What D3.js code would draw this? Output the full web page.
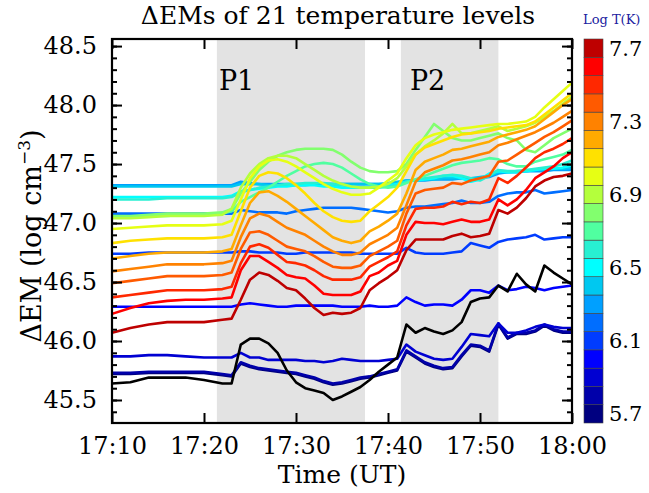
<!DOCTYPE html>
<html>
<head>
<meta charset="utf-8">
<script src="https://cdn.jsdelivr.net/npm/d3@7/dist/d3.min.js"></script>
<style>
  body { margin: 0; background: #fff; }
  text { font-family: 'DejaVu Serif', serif; }
</style>
</head>
<body>
<div id="main"></div>
<script>
// minutes after 17:00 UT
const times = [10, 12, 14, 16, 18, 20, 22,
  23, 24, 25, 26, 27, 28, 29, 30,
  31, 32, 33, 34, 35, 36, 37, 38, 39, 40,
  41, 42, 43, 44, 45, 46, 47, 48, 49, 50,
  51, 52, 53, 54, 55, 56, 57, 58, 59, 60];

const levels = [5.7, 5.8, 5.9, 6.0, 6.1, 6.2, 6.3, 6.4, 6.5, 6.6, 6.7,
  6.8, 6.9, 7.0, 7.1, 7.2, 7.3, 7.4, 7.5, 7.6, 7.7];

const levelColors = ['#000080', '#0000aa', '#0000d2', '#0000ff', '#003cff', '#006eff',
  '#00a0ff', '#00c8f0', '#00ffff', '#28f0d2', '#50ffa0', '#82ff6e', '#b4ff3c',
  '#e6ff14', '#ffe100', '#ffaa00', '#ff8200', '#ff5a00', '#ff2800', '#ff0000', '#be0000'];

const dem57 = [45.72, 45.72, 45.73, 45.73, 45.73, 45.73, 45.71,
  45.70, 45.81, 45.78, 45.76, 45.75, 45.74, 45.73, 45.72,
  45.70, 45.68, 45.65, 45.63, 45.64, 45.66, 45.68, 45.69, 45.71, 45.73,
  45.75, 45.91, 45.86, 45.81, 45.78, 45.76, 45.77, 45.87, 45.96, 45.95,
  45.91, 46.14, 46.02, 46.06, 46.06, 46.08, 46.13, 46.09, 46.07, 46.07];
const dem58 = [45.73, 45.73, 45.74, 45.74, 45.74, 45.74, 45.72,
  45.71, 45.82, 45.79, 45.77, 45.76, 45.75, 45.74, 45.73,
  45.71, 45.69, 45.66, 45.64, 45.65, 45.67, 45.69, 45.70, 45.72, 45.74,
  45.76, 45.92, 45.87, 45.82, 45.79, 45.77, 45.78, 45.88, 45.97, 45.96,
  45.92, 46.15, 46.03, 46.07, 46.07, 46.09, 46.14, 46.10, 46.08, 46.08];
const dem59 = [45.87, 45.87, 45.88, 45.88, 45.87, 45.86, 45.86,
  45.86, 45.90, 45.86, 45.86, 45.84, 45.84, 45.84, 45.84,
  45.83, 45.83, 45.82, 45.83, 45.85, 45.84, 45.83, 45.83, 45.83, 45.84,
  45.85, 45.97, 45.91, 45.88, 45.85, 45.84, 45.85, 45.95, 46.06, 46.05,
  46.04, 46.15, 46.07, 46.07, 46.09, 46.12, 46.14, 46.12, 46.11, 46.11];
const dem60 = [46.29, 46.29, 46.29, 46.29, 46.29, 46.29, 46.29,
  46.29, 46.31, 46.32, 46.31, 46.30, 46.29, 46.29, 46.30,
  46.30, 46.30, 46.30, 46.30, 46.29, 46.29, 46.29, 46.30, 46.29, 46.29,
  46.30, 46.37, 46.33, 46.30, 46.31, 46.31, 46.30, 46.35, 46.43, 46.43,
  46.41, 46.47, 46.43, 46.44, 46.46, 46.45, 46.43, 46.45, 46.46, 46.47];
const dem61 = [46.74, 46.74, 46.75, 46.75, 46.75, 46.75, 46.75,
  46.75, 46.76, 46.76, 46.75, 46.75, 46.75, 46.74, 46.74,
  46.75, 46.75, 46.75, 46.75, 46.75, 46.75, 46.74, 46.74, 46.74, 46.74,
  46.74, 46.79, 46.75, 46.74, 46.74, 46.74, 46.75, 46.76, 46.83, 46.81,
  46.79, 46.84, 46.86, 46.87, 46.88, 46.90, 46.86, 46.87, 46.88, 46.88];
const dem62 = [47.08, 47.08, 47.08, 47.08, 47.08, 47.08, 47.08,
  47.08, 47.11, 47.10, 47.09, 47.09, 47.09, 47.08, 47.10,
  47.11, 47.12, 47.13, 47.13, 47.13, 47.13, 47.12, 47.11, 47.10, 47.09,
  47.10, 47.13, 47.14, 47.14, 47.15, 47.16, 47.17, 47.19, 47.17, 47.17,
  47.18, 47.23, 47.25, 47.26, 47.26, 47.28, 47.25, 47.26, 47.27, 47.28];
const dem63 = [47.32, 47.32, 47.32, 47.32, 47.32, 47.32, 47.32,
  47.32, 47.35, 47.34, 47.33, 47.33, 47.33, 47.33, 47.33,
  47.33, 47.33, 47.33, 47.33, 47.33, 47.33, 47.33, 47.33, 47.33, 47.33,
  47.34, 47.36, 47.36, 47.36, 47.37, 47.37, 47.37, 47.38, 47.36, 47.38,
  47.39, 47.42, 47.43, 47.43, 47.44, 47.44, 47.44, 47.45, 47.45, 47.45];
const dem64 = [47.31, 47.31, 47.31, 47.31, 47.31, 47.31, 47.31,
  47.31, 47.33, 47.33, 47.33, 47.32, 47.32, 47.32, 47.32,
  47.32, 47.33, 47.33, 47.33, 47.33, 47.33, 47.33, 47.33, 47.33, 47.34,
  47.35, 47.36, 47.36, 47.37, 47.37, 47.38, 47.38, 47.38, 47.38, 47.39,
  47.40, 47.43, 47.43, 47.44, 47.44, 47.45, 47.45, 47.46, 47.46, 47.47];
const dem65 = [47.22, 47.22, 47.22, 47.22, 47.22, 47.22, 47.22,
  47.23, 47.27, 47.28, 47.29, 47.30, 47.31, 47.31, 47.32,
  47.32, 47.32, 47.31, 47.31, 47.30, 47.30, 47.30, 47.30, 47.31, 47.32,
  47.33, 47.35, 47.36, 47.37, 47.38, 47.40, 47.40, 47.38, 47.35, 47.37,
  47.42, 47.44, 47.43, 47.43, 47.44, 47.45, 47.46, 47.46, 47.47, 47.49];
const dem66 = [47.20, 47.20, 47.20, 47.21, 47.21, 47.21, 47.21,
  47.22, 47.26, 47.28, 47.30, 47.31, 47.32, 47.33, 47.33,
  47.34, 47.34, 47.34, 47.33, 47.32, 47.31, 47.30, 47.30, 47.30, 47.31,
  47.32, 47.35, 47.37, 47.38, 47.39, 47.40, 47.41, 47.40, 47.38, 47.36,
  47.40, 47.45, 47.44, 47.44, 47.45, 47.46, 47.47, 47.48, 47.50, 47.53];
const dem67 = [47.05, 47.05, 47.06, 47.06, 47.07, 47.07, 47.08,
  47.10, 47.18, 47.22, 47.26, 47.30, 47.35, 47.40, 47.44,
  47.48, 47.50, 47.51, 47.50, 47.47, 47.42, 47.37, 47.33, 47.31, 47.30,
  47.31, 47.34, 47.37, 47.40, 47.43, 47.46, 47.49, 47.51, 47.52, 47.53,
  47.55, 47.54, 47.50, 47.48, 47.48, 47.52, 47.54, 47.56, 47.58, 47.62];
const dem68 = [47.06, 47.06, 47.07, 47.08, 47.08, 47.08, 47.09,
  47.12, 47.25, 47.35, 47.45, 47.52, 47.57, 47.60, 47.62,
  47.63, 47.63, 47.63, 47.62, 47.58, 47.52, 47.47, 47.44, 47.43, 47.43,
  47.44, 47.50, 47.62, 47.73, 47.84, 47.78, 47.72, 47.70, 47.70, 47.72,
  47.74, 47.76, 47.72, 47.70, 47.62, 47.60, 47.66, 47.72, 47.76, 47.80];
const dem69 = [47.04, 47.04, 47.05, 47.06, 47.06, 47.06, 47.07,
  47.12, 47.30, 47.42, 47.50, 47.55, 47.57, 47.57, 47.55,
  47.50, 47.45, 47.40, 47.36, 47.33, 47.31, 47.30, 47.30, 47.31, 47.33,
  47.38, 47.48, 47.58, 47.65, 47.70, 47.76, 47.84, 47.76, 47.76, 47.78,
  47.80, 47.82, 47.78, 47.80, 47.82, 47.85, 47.90, 47.95, 48.01, 48.07];
const dem70 = [46.95, 46.96, 46.97, 46.98, 46.98, 46.98, 46.99,
  47.02, 47.20, 47.38, 47.48, 47.53, 47.54, 47.52, 47.48,
  47.43, 47.38, 47.33, 47.29, 47.26, 47.24, 47.24, 47.25, 47.30, 47.36,
  47.42, 47.55, 47.66, 47.72, 47.75, 47.77, 47.79, 47.80, 47.81, 47.82,
  47.83, 47.84, 47.84, 47.85, 47.86, 47.90, 47.98, 48.05, 48.12, 48.19];
const dem71 = [46.83, 46.85, 46.86, 46.87, 46.87, 46.87, 46.88,
  46.90, 47.10, 47.30, 47.40, 47.43, 47.42, 47.38, 47.32,
  47.25, 47.17, 47.10, 47.05, 47.02, 47.01, 47.02, 47.10, 47.16, 47.22,
  47.30, 47.44, 47.58, 47.64, 47.67, 47.70, 47.73, 47.75, 47.76, 47.77,
  47.78, 47.80, 47.81, 47.82, 47.83, 47.86, 47.92, 47.98, 48.04, 48.10];
const dem72 = [46.70, 46.72, 46.74, 46.75, 46.75, 46.75, 46.76,
  46.78, 46.98, 47.17, 47.26, 47.27, 47.23, 47.18, 47.12,
  47.06, 47.00, 46.94, 46.88, 46.85, 46.83, 46.85, 46.93, 46.97, 47.02,
  47.08, 47.25, 47.45, 47.52, 47.55, 47.58, 47.62, 47.63, 47.65, 47.67,
  47.69, 47.73, 47.75, 47.77, 47.79, 47.82, 47.88, 47.94, 48.00, 48.05];
const dem73 = [46.59, 46.61, 46.63, 46.65, 46.65, 46.65, 46.66,
  46.68, 46.88, 47.04, 47.08, 47.06, 47.01, 46.96, 46.93,
  46.90, 46.85, 46.80, 46.76, 46.73, 46.73, 46.75, 46.82, 46.86, 46.90,
  46.96, 47.15, 47.35, 47.43, 47.46, 47.49, 47.53, 47.54, 47.56, 47.58,
  47.60, 47.66, 47.68, 47.71, 47.74, 47.77, 47.81, 47.85, 47.90, 47.95];
const dem74 = [46.49, 46.51, 46.53, 46.55, 46.55, 46.55, 46.56,
  46.58, 46.78, 46.92, 46.93, 46.90, 46.85, 46.80, 46.78,
  46.76, 46.72, 46.67, 46.63, 46.62, 46.62, 46.64, 46.72, 46.76, 46.80,
  46.85, 47.08, 47.25, 47.28, 47.29, 47.30, 47.34, 47.33, 47.36, 47.38,
  47.40, 47.52, 47.53, 47.58, 47.63, 47.68, 47.73, 47.77, 47.82, 47.87];
const dem75 = [46.37, 46.39, 46.41, 46.43, 46.43, 46.43, 46.44,
  46.46, 46.66, 46.80, 46.82, 46.79, 46.73, 46.67, 46.66,
  46.64, 46.60, 46.55, 46.52, 46.52, 46.52, 46.54, 46.63, 46.67, 46.71,
  46.76, 46.98, 47.12, 47.13, 47.13, 47.14, 47.18, 47.16, 47.18, 47.17,
  47.20, 47.38, 47.34, 47.40, 47.47, 47.55, 47.60, 47.63, 47.67, 47.72];
const dem76 = [46.23, 46.28, 46.32, 46.34, 46.35, 46.35, 46.36,
  46.37, 46.60, 46.72, 46.72, 46.67, 46.62, 46.56, 46.54,
  46.53, 46.47, 46.40, 46.39, 46.39, 46.39, 46.42, 46.55, 46.58, 46.64,
  46.68, 46.90, 47.01, 47.00, 47.00, 46.99, 47.01, 47.03, 47.01, 47.01,
  47.03, 47.20, 47.15, 47.20, 47.28, 47.38, 47.43, 47.48, 47.55, 47.60];
const dem77 = [46.07, 46.11, 46.14, 46.16, 46.16, 46.16, 46.18,
  46.19, 46.35, 46.52, 46.58, 46.56, 46.51, 46.45, 46.43,
  46.36, 46.28, 46.22, 46.24, 46.23, 46.24, 46.28, 46.43, 46.49, 46.54,
  46.60, 46.77, 46.86, 46.86, 46.86, 46.86, 46.89, 46.91, 46.88, 46.89,
  46.91, 47.11, 47.08, 47.13, 47.21, 47.31, 47.36, 47.39, 47.40, 47.42];
// black curve
const demBlack = [45.64, 45.65, 45.69, 45.69, 45.69, 45.67, 45.64,
  45.64, 45.97, 46.02, 46.02, 45.98, 45.90, 45.75, 45.65,
  45.60, 45.58, 45.56, 45.50, 45.53, 45.57, 45.61, 45.67, 45.74, 45.80,
  45.86, 46.14, 46.07, 46.11, 46.08, 46.06, 46.09, 46.16, 46.33, 46.36,
  46.37, 46.47, 46.42, 46.57, 46.48, 46.42, 46.64, 46.58, 46.53, 46.48];

const series = [dem57, dem58, dem59, dem60, dem61, dem62, dem63, dem64, dem65, dem66, dem67,
  dem68, dem69, dem70, dem71, dem72, dem73, dem74, dem75, dem76, dem77];

const xTicks = [10, 20, 30, 40, 50, 60];
const xTickLabels = ['17:10', '17:20', '17:30', '17:40', '17:50', '18:00'];
const yTicks = [45.5, 46.0, 46.5, 47.0, 47.5, 48.0, 48.5];
const barTicks = [7.7, 7.3, 6.9, 6.5, 6.1, 5.7];
const periods = [['P1', 21.4, 37.5], ['P2', 41.4, 52.0]];

const width = 649;
const height = 493;
const plot = { left: 112, right: 572, top: 39, bottom: 423 };

const svg = d3.select('#main').append('svg')
  .attr('width', width)
  .attr('height', height);

const x = d3.scaleLinear().domain([10, 60]).range([plot.left, plot.right]);
const y = d3.scaleLinear().domain([45.305, 48.56]).range([plot.bottom, plot.top]);

/* shaded flare periods */
svg.selectAll('rect.period')
  .data(periods)
  .enter()
  .append('rect')
  .attr('class', 'period')
  .attr('x', (d) => x(d[1]))
  .attr('y', plot.top)
  .attr('width', (d) => x(d[2]) - x(d[1]))
  .attr('height', plot.bottom - plot.top)
  .style('fill', '#e3e3e3');

svg.selectAll('text.period')
  .data(periods)
  .enter()
  .append('text')
  .attr('class', 'period')
  .attr('x', (d) => x(d[1]) + (d[0] === 'P1' ? 2 : 9))
  .attr('y', 90)
  .style('font-size', '27px')
  .text((d) => d[0]);

/* curves */
const line = d3.line()
  .x((d, i) => x(times[i]))
  .y((d) => y(d));

const g = svg.append('g');
g.selectAll('path.dem')
  .data(series)
  .enter()
  .append('path')
  .attr('class', 'dem')
  .attr('d', line)
  .style('fill', 'none')
  .style('stroke', (d, i) => levelColors[i])
  .style('stroke-width', 2.6)
  .style('stroke-linejoin', 'round');

g.append('path')
  .attr('d', line(demBlack))
  .style('fill', 'none')
  .style('stroke', '#000')
  .style('stroke-width', 2.6)
  .style('stroke-linejoin', 'round');

/* axes, ticks pointing inward */
const yMinor = d3.range(45.4, 48.55, 0.1).map((v) => Math.round(v * 10) / 10);

const leftAxis = svg.append('g')
  .attr('transform', `translate(${plot.left},0)`)
  .call(d3.axisLeft(y).tickValues(yTicks).tickSize(-10).tickPadding(15)
    .tickFormat(d3.format('.1f')));
leftAxis.append('g')
  .call(d3.axisLeft(y).tickValues(yMinor).tickSize(-5).tickFormat(''));

const rightAxis = svg.append('g')
  .attr('transform', `translate(${plot.right},0)`)
  .call(d3.axisRight(y).tickValues(yTicks).tickSize(-10).tickFormat(''));
rightAxis.append('g')
  .call(d3.axisRight(y).tickValues(yMinor).tickSize(-5).tickFormat(''));

svg.append('g')
  .attr('transform', `translate(0,${plot.bottom})`)
  .call(d3.axisBottom(x).tickValues(xTicks).tickSize(-10).tickPadding(14)
    .tickFormat((d, i) => xTickLabels[i]));

svg.append('g')
  .attr('transform', `translate(0,${plot.top})`)
  .call(d3.axisTop(x).tickValues(xTicks).tickSize(-10).tickFormat(''));

svg.selectAll('.domain').remove();
svg.selectAll('.tick line').style('stroke', '#000').style('stroke-width', 2);
svg.selectAll('.tick text')
  .style('font-family', "'DejaVu Serif', serif")
  .style('font-size', '24px')
  .style('fill', '#000');

svg.append('rect')
  .attr('x', plot.left)
  .attr('y', plot.top)
  .attr('width', plot.right - plot.left)
  .attr('height', plot.bottom - plot.top)
  .style('fill', 'none')
  .style('stroke', '#000')
  .style('stroke-width', 2.2);

/* titles */
svg.append('text')
  .attr('x', 338)
  .attr('y', 24)
  .attr('text-anchor', 'middle')
  .style('font-size', '25px')
  .text('ΔEMs of 21 temperature levels');

svg.append('text')
  .attr('x', 342)
  .attr('y', 483)
  .attr('text-anchor', 'middle')
  .style('font-size', '25px')
  .text('Time (UT)');

const yTitle = svg.append('text')
  .attr('transform', 'translate(41,236) rotate(-90)')
  .attr('text-anchor', 'middle')
  .style('font-size', '27px');
yTitle.append('tspan').text('ΔEM (log cm');
yTitle.append('tspan').attr('dy', -11).style('font-size', '17px').text('−3');
yTitle.append('tspan').attr('dy', 11).text(')');

/* colour bar */
const band = d3.scaleBand()
  .domain(levels.slice().reverse())
  .range([plot.top, plot.bottom]);

svg.selectAll('rect.cell')
  .data(levels)
  .enter()
  .append('rect')
  .attr('class', 'cell')
  .attr('x', 584)
  .attr('y', (d) => band(d))
  .attr('width', 19)
  .attr('height', band.bandwidth())
  .style('fill', (d, i) => levelColors[i])
  .style('stroke', '#444')
  .style('stroke-width', 0.6);

svg.selectAll('text.cbar')
  .data(barTicks)
  .enter()
  .append('text')
  .attr('class', 'cbar')
  .attr('x', 609)
  .attr('y', (d) => band(d) + band.bandwidth() / 2)
  .attr('dy', '0.36em')
  .style('font-size', '21px')
  .text((d) => d.toFixed(1));

svg.append('text')
  .attr('x', 583)
  .attr('y', 24)
  .style('font-size', '13px')
  .style('fill', '#2020a0')
  .text('Log T(K)');
</script>
</body>
</html>
